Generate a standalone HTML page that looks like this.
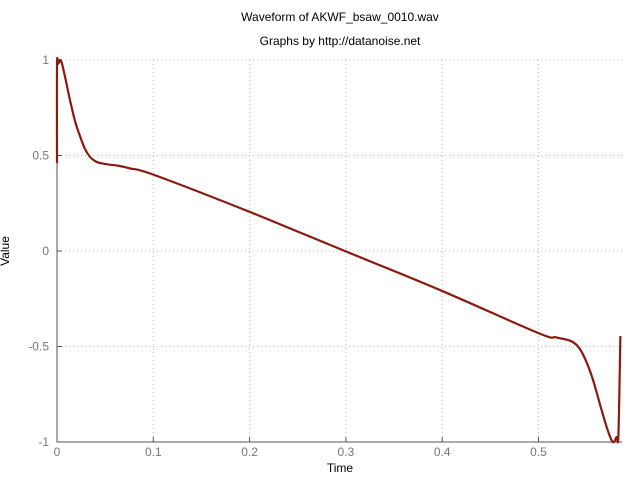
<!DOCTYPE html>
<html><head><meta charset="utf-8"><style>
body{margin:0;background:#fff;}
svg{display:block;font-family:"Liberation Sans",sans-serif;}
</style></head><body>
<svg id="chart" width="640" height="480">
<text x="340" y="21" text-anchor="middle" font-size="12" fill="#000">Waveform of AKWF_bsaw_0010.wav</text>
<text x="340" y="45" text-anchor="middle" font-size="12" fill="#000">Graphs by http://datanoise.net</text>
<text x="340" y="472" text-anchor="middle" font-size="12" fill="#000">Time</text>
<text x="9" y="251" text-anchor="middle" font-size="12" fill="#000" transform="rotate(-90 9 251)">Value</text>
<g id="grid"></g>
<g id="axes"></g>
<path id="wave" fill="none" stroke="#8b1a10" stroke-width="2.2" stroke-linejoin="round"/>
</svg>
<script>
const xTicks=[0,0.1,0.2,0.3,0.4,0.5];
const xTickLabels=["0","0.1","0.2","0.3","0.4","0.5"];
const yTicks=[-1,-0.5,0,0.5,1];
const yTickLabels=["-1","-0.5","0","0.5","1"];
const times=[0,0,0.001,0.002,0.003,0.005,0.008,0.0135,0.019,0.024,0.029,0.034,0.039,0.045,0.055,0.065,0.076,0.1,0.2,0.299,0.398,0.5,0.518,0.533,0.541,0.548,0.556,0.564,0.571,0.577,0.581,0.583,0.585];
const values=[0.46,0.97,0.98,0.985,1,0.985,0.92,0.79,0.675,0.6,0.535,0.495,0.472,0.46,0.452,0.445,0.432,0.40,0.205,0,-0.205,-0.43,-0.452,-0.47,-0.5,-0.56,-0.665,-0.805,-0.925,-1,-0.975,-0.96,-0.445];
const X0=57,X1=622,Y0=442,Y1=60;
const xs=t=>X0+t*963;
const ys=v=>Y0-(v+1)/2*(Y0-Y1);
const NS="http://www.w3.org/2000/svg";
const grid=document.getElementById('grid'),axes=document.getElementById('axes');
function mk(tag,attrs,parent){const e=document.createElementNS(NS,tag);for(const k in attrs)e.setAttribute(k,attrs[k]);parent.appendChild(e);return e;}
xTicks.forEach((t,i)=>{
  const x=xs(t);
  if(i>0){const g=mk('line',{x1:x,x2:x,y1:Y1,y2:Y0,stroke:'#bbb','stroke-dasharray':'1,3'},grid);
  
  }
  const tk=mk('line',{x1:x,x2:x,y1:Y0,y2:Y0-5,stroke:'#555'},axes);
  
  
  const tx=mk('text',{x:x,y:Y0+14,'text-anchor':'middle','font-size':'12',fill:'#777'},axes);
  tx.textContent=xTickLabels[i];
  
  
});
yTicks.forEach((v,i)=>{
  const y=ys(v);
  if(v>-1){const g=mk('line',{x1:X0,x2:X1,y1:y,y2:y,stroke:'#bbb','stroke-dasharray':'1,3'},grid);
  
  }
  const tk=mk('line',{x1:X0,x2:X0+5,y1:y,y2:y,stroke:'#555'},axes);
  
  
  const tx=mk('text',{x:X0-8,y:y+4,'text-anchor':'end','font-size':'12',fill:'#777'},axes);
  tx.textContent=yTickLabels[i];
  
  
});
const ax=mk('path',{d:`M${X0},${Y1}V${Y0}H${X1}`,fill:'none',stroke:'#555'},axes);


const P=times.map((t,i)=>[xs(t),ys(values[i])]);
let d='M'+P[0][0].toFixed(1)+','+P[0][1].toFixed(1);
for(let i=0;i<P.length-1;i++){
  const p0=P[Math.max(0,i-1)],p1=P[i],p2=P[i+1],p3=P[Math.min(P.length-1,i+2)];
  const c1=[p1[0]+(p2[0]-p0[0])/6,p1[1]+(p2[1]-p0[1])/6];
  const c2=[p2[0]-(p3[0]-p1[0])/6,p2[1]-(p3[1]-p1[1])/6];
  d+=`C${c1[0].toFixed(1)},${c1[1].toFixed(1)} ${c2[0].toFixed(1)},${c2[1].toFixed(1)} ${p2[0].toFixed(1)},${p2[1].toFixed(1)}`;
}
document.getElementById('wave').setAttribute('d',d);
</script>
</body></html>
